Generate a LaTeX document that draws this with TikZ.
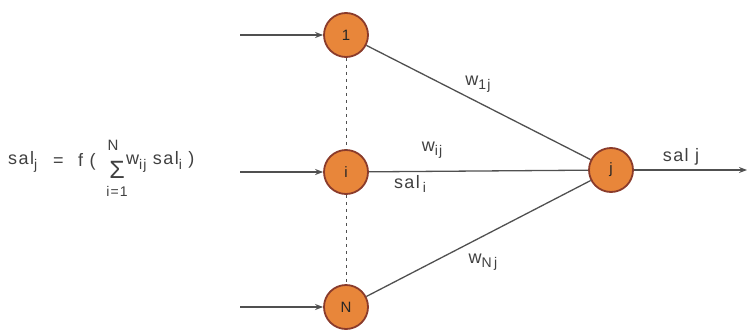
\documentclass[tikz,border=0pt]{standalone}
\usepackage{fontspec}
\setmainfont{Liberation Sans}[LetterSpace=8]
\usetikzlibrary{arrows.meta}
\definecolor{nfill}{HTML}{E8863A}
\definecolor{nedge}{HTML}{8A3B2B}
\definecolor{lgray}{HTML}{505050}
\newcommand{\sbs}[1]{\raisebox{-0.45ex}{\fontsize{14}{14}\selectfont #1}}
\begin{document}
\begin{tikzpicture}[x=1pt,y=-1pt,
  neuron/.style={circle,draw=nedge,line width=1.8pt,fill=nfill,minimum size=44pt,inner sep=0pt,
    font=\fontsize{15}{15}\selectfont,text=black!85},
  conn/.style={draw=lgray,line width=1.3pt},
  inarrow/.style={conn,-{Stealth[length=8pt,width=6pt]}},
  lbl/.style={font=\fontsize{18}{18}\selectfont,text=black!75,inner sep=0pt},
  dashedline/.style={draw=lgray,line width=1pt,dash pattern=on 3pt off 4pt}]
\useasboundingbox (0,0) rectangle (749,332);
% neurons
\node[neuron] (n1) at (346,35) {1};
\node[neuron] (ni) at (346,172) {i};
\node[neuron] (nN) at (346,307) {N};
\node[neuron] (nj) at (611,170) {j};
% input coordinates
\coordinate (in1) at (240,35);
\coordinate (ini) at (240,172);
\coordinate (inN) at (240,307);
\coordinate (out) at (747,170);
% dashed vertical
\draw[dashedline] (n1) -- (ni);
\draw[dashedline] (ni) -- (nN);
% connectors
\draw[inarrow] (in1) -- (n1);
\draw[inarrow] (ini) -- (ni);
\draw[inarrow] (inN) -- (nN);
\draw[conn] (n1) -- (nj);
\draw[conn] (ni) -- (nj);
\draw[conn] (nN) -- (nj);
\draw[inarrow] (nj) -- (out);
% labels
\node[lbl] (lw1) at (478,84) {w\sbs{1j}};
\node[lbl] (lwi) at (432,150) {w\sbs{ij}};
\node[lbl] (lsi) at (410,184) {sal\,\sbs{i}};
\node[lbl] (lwN) at (483,262) {w\sbs{N\,j}};
\node[lbl] (lsj) at (681,157) {sal j};
% formula
\node[lbl,anchor=west] (fa) at (8,162) {sal\sbs{j}};
\node[lbl,anchor=west] (fe) at (53,162) {=};
\node[lbl,anchor=west] (ff) at (78,162) {f (};
\node[lbl,font=\fontsize{25}{25}\selectfont] (fs) at (117,170) {Σ};
\node[lbl,font=\fontsize{15}{15}\selectfont] (fN) at (113,145) {N};
\node[lbl,font=\fontsize{14}{14}\selectfont] (f1) at (117,191) {i=1};
\node[lbl,anchor=west] (fb) at (126,162) {w\sbs{ij} sal\sbs{i} )};
\end{tikzpicture}
\end{document}
